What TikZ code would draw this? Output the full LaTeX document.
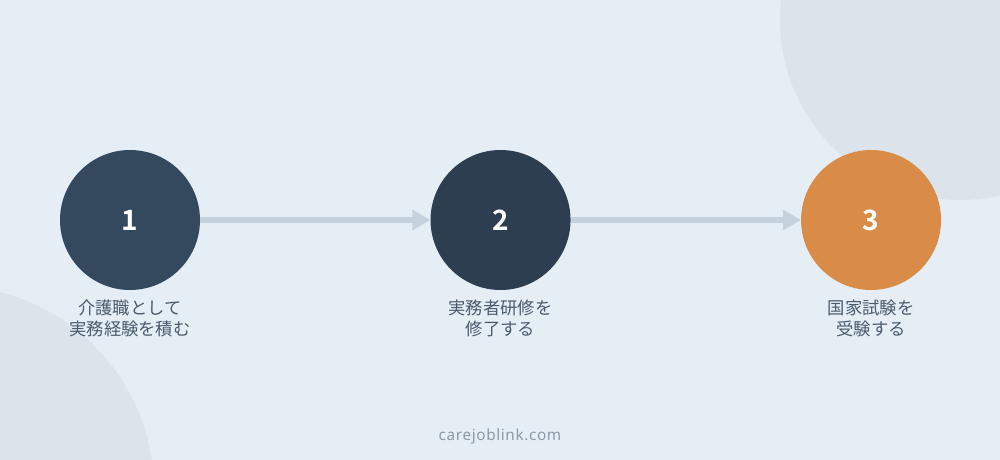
\documentclass[tikz,border=0pt]{standalone}
\usepackage{fontspec}
\setmainfont{Noto Sans}
\newfontfamily\jpfont{Noto Sans CJK JP}
\newfontfamily\numfont{Noto Sans CJK JP Bold}
\newfontfamily\sitefont[LetterSpace=4]{Noto Sans}
\usetikzlibrary{positioning, arrows.meta}

\definecolor{bgblue}{HTML}{E6EEF5}
\definecolor{decoblue}{HTML}{DBE3EB}
\definecolor{navylight}{HTML}{34495E}
\definecolor{navydark}{HTML}{2C3E50}
\definecolor{accent}{HTML}{D98B48}
\definecolor{linkgray}{HTML}{C5D2DC}
\definecolor{labelgray}{HTML}{4A5A6B}
\definecolor{sitegray}{HTML}{8C9AA6}

\begin{document}
\begin{tikzpicture}[
        x=0.75pt, y=-0.75pt,
        node distance=172.5pt,
        stepcircle/.style={circle, minimum size=105pt, inner sep=0pt, text=white, font=\numfont\fontsize{21pt}{21pt}\selectfont},
        steplabel/.style={align=center, inner sep=0pt, text=labelgray, font=\jpfont\fontsize{13pt}{15.75pt}\selectfont},
        footer/.style={text=sitegray, font=\sitefont\fontsize{11.5pt}{13pt}\selectfont},
        link/.style={-{Triangle[length=13.5pt, width=15pt]}, line width=4.5pt, draw=linkgray}
    ]

    % Background
    \fill[bgblue] (0,0) rectangle (1000,460);
    \useasboundingbox (0,0) rectangle (1000,460);
    \begin{scope}
        \clip (0,0) rectangle (1000,460);
        \fill[decoblue] (960,20) circle[radius=180];
        \fill[decoblue] (-50,490) circle[radius=204];
    \end{scope}

    % Steps
    \node[stepcircle, fill=navylight] (s1) at (130,220) {1};
    \node[stepcircle, fill=navydark, right=of s1] (s2) {2};
    \node[stepcircle, fill=accent, right=of s2] (s3) {3};

    % Links
    \draw[link] (s1) -- (s2);
    \draw[link] (s2) -- (s3);

    % Labels
    \node[steplabel, below=7pt of s1] (l1) {介護職として\\実務経験を積む};
    \node[steplabel, below=7pt of s2] (l2) {実務者研修を\\修了する};
    \node[steplabel, below=7pt of s3] (l3) {国家試験を\\受験する};

    % Footer
    \node[footer] (site) at (500,437) {carejoblink.com};

\end{tikzpicture}
\end{document}
